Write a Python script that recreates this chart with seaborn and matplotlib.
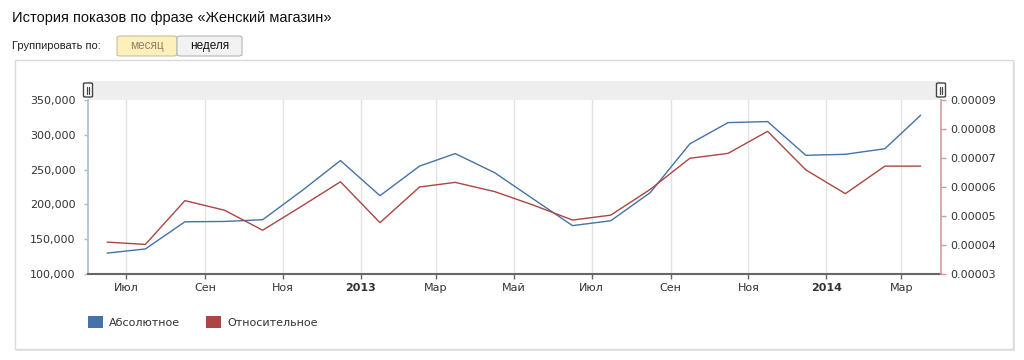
import matplotlib
matplotlib.use("Agg")
import matplotlib.pyplot as plt
import matplotlib.transforms as mtransforms
from matplotlib.patches import Rectangle, FancyBboxPatch, Patch
from matplotlib.ticker import FuncFormatter
import pandas as pd
import seaborn as sns

# Данные (середина каждого месяца)
months = ["2012-06", "2012-07", "2012-08", "2012-09", "2012-10", "2012-11", "2012-12",
          "2013-01", "2013-02", "2013-03", "2013-04", "2013-05", "2013-06", "2013-07",
          "2013-08", "2013-09", "2013-10", "2013-11", "2013-12",
          "2014-01", "2014-02", "2014-03"]
absolute = [130000, 136000, 175000, 175500, 178000, 220000, 263000,
            212500, 255000, 273000, 245500, 208000, 169500, 176500,
            217000, 287000, 317500, 319000, 270500,
            272000, 280000, 328000]
relative = [4.10e-5, 4.02e-5, 5.53e-5, 5.20e-5, 4.51e-5, 5.35e-5, 6.18e-5,
            4.77e-5, 6.00e-5, 6.16e-5, 5.84e-5, 5.38e-5, 4.86e-5, 5.03e-5,
            5.92e-5, 6.99e-5, 7.16e-5, 7.92e-5, 6.59e-5,
            5.77e-5, 6.72e-5, 6.72e-5]

tick_months = ["2012-07", "2012-09", "2012-11", "2013-01", "2013-03", "2013-05",
               "2013-07", "2013-09", "2013-11", "2014-01", "2014-03"]
tick_labels = ["Июл", "Сен", "Ноя", "2013", "Мар", "Май",
               "Июл", "Сен", "Ноя", "2014", "Мар"]

left_ticks = [100000, 150000, 200000, 250000, 300000, 350000]
right_ticks = [0.00003, 0.00004, 0.00005, 0.00006, 0.00007, 0.00008, 0.00009]

BLUE = "#4572a7"
RED = "#aa4643"

sns.set_style("white")
plt.rcParams["font.family"] = ["DejaVu Sans"]

df = pd.DataFrame({"date": pd.to_datetime(months) + pd.Timedelta(days=15),
                   "abs": absolute, "rel": relative})

W, H = 1024, 360
fig = plt.figure(figsize=(W / 100, H / 100), dpi=100)


def fx(px):
    return px / W


def fy(py):
    return 1 - py / H


def frect(x0, y0, x1, y1, **kw):
    return Rectangle((fx(x0), fy(y1)), fx(x1) - fx(x0), fy(y0) - fy(y1),
                     transform=fig.transFigure, **kw)


# Заголовок и кнопки
fig.text(fx(12), fy(18), "История показов по фразе «Женский магазин»",
         fontsize=10.5, family="Liberation Sans", va="center", color="#111111")
fig.text(fx(12), fy(46), "Группировать по:", fontsize=8,
         family="Liberation Sans", va="center", color="#222222")
fig.patches.append(FancyBboxPatch((fx(117), fy(56)), fx(177) - fx(117), fy(36) - fy(56),
                                  boxstyle="round,pad=0,rounding_size=0.004",
                                  transform=fig.transFigure, facecolor="#fdf0bb",
                                  edgecolor="#c8c0a0", lw=0.8))
fig.patches.append(FancyBboxPatch((fx(177), fy(56)), fx(242) - fx(177), fy(36) - fy(56),
                                  boxstyle="round,pad=0,rounding_size=0.004",
                                  transform=fig.transFigure, facecolor="#f2f2f2",
                                  edgecolor="#b5b5b5", lw=0.8))
fig.text(fx(147), fy(46), "месяц", fontsize=8.5, family="Liberation Sans",
         ha="center", va="center", color="#8f8266")
fig.text(fx(209.5), fy(46), "неделя", fontsize=8.5, family="Liberation Sans",
         ha="center", va="center", color="#111111")

# Панель графика (под осями)
fig.patches.append(frect(16, 62, 1015, 351, facecolor="#e4e4e4", edgecolor="none", zorder=-3))
fig.patches.append(frect(15, 60, 1013, 349, facecolor="white", edgecolor="#dadada", lw=1,
                         zorder=-2))
# полоса навигатора
fig.patches.append(frect(88, 81, 941, 100, facecolor="#eeeeee", edgecolor="none", zorder=-1))
for hx in (88, 941):
    fig.patches.append(FancyBboxPatch((fx(hx - 4.5), fy(97)), fx(9) - fx(0), fy(83) - fy(97),
                                      boxstyle="round,pad=0,rounding_size=0.002",
                                      transform=fig.transFigure, facecolor="white",
                                      edgecolor="#444444", lw=1, zorder=5))
    for dx in (-1.2, 1.2):
        fig.lines.append(plt.Line2D([fx(hx + dx), fx(hx + dx)], [fy(86.5), fy(93.5)],
                                    transform=fig.transFigure, color="#444444", lw=0.9,
                                    zorder=6))

ax = fig.add_axes([fx(88), fy(274), fx(941) - fx(88), fy(100) - fy(274)])
ax.patch.set_alpha(0)
sns.lineplot(data=df, x="date", y="abs", ax=ax, color=BLUE, lw=1.0)
ax2 = ax.twinx()
sns.lineplot(data=df, x="date", y="rel", ax=ax2, color=RED, lw=1.0)

ax.set_xlim(pd.Timestamp("2012-06-01"), pd.Timestamp("2014-04-01"))
ax.set_ylim(100000, 350000)
ax2.set_ylim(0.00003, 0.00009)

ax.set_xticks(pd.to_datetime(tick_months))
ax.set_xticklabels(tick_labels)
offset = mtransforms.ScaledTranslation(16 / 100, 0, fig.dpi_scale_trans)
for lbl in ax.get_xticklabels():
    lbl.set_transform(lbl.get_transform() + offset)
    if lbl.get_text().isdigit():
        lbl.set_fontweight("bold")
ax.grid(axis="x", color="#e2e2e2", lw=1)
ax.grid(axis="y", visible=False)

ax.set_yticks(left_ticks)
ax.yaxis.set_major_formatter(FuncFormatter(lambda v, p: f"{v:,.0f}"))
ax2.set_yticks(right_ticks)
ax2.yaxis.set_major_formatter(FuncFormatter(lambda v, p: f"{v:.5f}"))

ax.set_xlabel("")
ax.set_ylabel("")
ax2.set_ylabel("")

ax.tick_params(axis="x", direction="out", length=3.6, width=1, color="#666666",
               labelsize=8, labelcolor="#333333", pad=3, bottom=True)
ax.tick_params(axis="y", direction="out", length=3, width=1, color="#a8bcdc",
               labelsize=8, labelcolor="#333333", pad=6, left=True)
ax2.tick_params(axis="y", direction="out", length=3.6, width=1, color="#d49a9a",
                labelsize=8, labelcolor="#333333", pad=3, right=True)

for s in ("top", "right"):
    ax.spines[s].set_visible(False)
ax.spines["left"].set_color("#a8bcdc")
ax.spines["left"].set_linewidth(1.2)
ax.spines["bottom"].set_color("#666666")
ax.spines["bottom"].set_linewidth(1.5)
for s in ("top", "left", "bottom"):
    ax2.spines[s].set_visible(False)
ax2.spines["right"].set_color("#d49a9a")
ax2.spines["right"].set_linewidth(1.2)

handles = [Patch(facecolor=BLUE, edgecolor="none"), Patch(facecolor=RED, edgecolor="none")]
fig.legend(handles, ["Абсолютное", "Относительное"], loc="center left",
           bbox_to_anchor=(fx(88), fy(322)), bbox_transform=fig.transFigure, ncol=2,
           frameon=False, fontsize=8, borderpad=0, borderaxespad=0,
           handlelength=1.35, handleheight=1.35, handletextpad=0.5, columnspacing=2.4,
           labelcolor="#333333")

fig.savefig("out.png", dpi=100)
